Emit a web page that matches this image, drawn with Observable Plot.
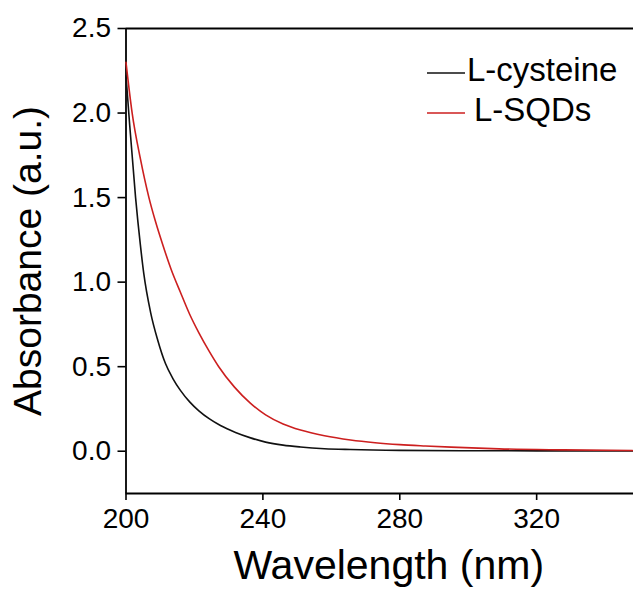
<!DOCTYPE html>
<html>
<head>
<meta charset="utf-8">
<script src="https://cdn.jsdelivr.net/npm/d3@7"></script>
<script src="https://cdn.jsdelivr.net/npm/@observablehq/plot@0.6"></script>
<style>
  html, body { margin: 0; padding: 0; background: #fff; }
  #wrap { position: relative; width: 633px; height: 592px; overflow: hidden; }
  #legend { position: absolute; left: 0; top: 0; }
  text { font-family: "Liberation Sans", Arial, sans-serif; }
</style>
</head>
<body>
<div id="wrap"></div>
<script>
// Series names and colours
const seriesNames = ["L-cysteine", "L-SQDs"];
const seriesColors = ["#111111", "#cc1f1f"];

// L-cysteine absorbance
const cysWavelength = [200, 201, 202.8, 204.2, 205.2, 207.2, 209.3, 211.5, 213.7, 215.9, 218.6, 221.3, 224.4, 227.6, 232, 236.4, 240.8, 245.9, 251, 258, 265.6, 280, 300, 320, 348];
const cysAbsorbance = [2.22, 1.95, 1.50, 1.22, 1.05, 0.82, 0.655, 0.52, 0.43, 0.36, 0.292, 0.239, 0.191, 0.152, 0.111, 0.079, 0.054, 0.036, 0.025, 0.015, 0.010, 0.005, 0.003, 0.002, 0.001];

// L-SQDs absorbance
const sqdWavelength = [200, 201.8, 204.2, 206.7, 208.6, 210.6, 213.2, 215.9, 218.6, 221.3, 224.2, 227.1, 231.7, 236.4, 240.8, 245.9, 251, 258, 265.6, 272.8, 280, 287.5, 295, 309, 328, 348];
const sqdAbsorbance = [2.30, 2.00, 1.73, 1.50, 1.36, 1.23, 1.075, 0.94, 0.81, 0.70, 0.595, 0.50, 0.379, 0.283, 0.215, 0.161, 0.125, 0.091, 0.066, 0.050, 0.039, 0.031, 0.024, 0.014, 0.008, 0.004];

// Axis ticks
const xTicks = [200, 240, 280, 320];
const yTicks = [0, 0.5, 1.0, 1.5, 2.0, 2.5];
const xDomain = [200, 348.3];
const yDomain = [-0.25, 2.5];
const xLabel = "Wavelength (nm)";
const yLabel = "Absorbance (a.u.)";

const rows = [
  ...cysWavelength.map((w, i) => ({series: seriesNames[0], w, a: cysAbsorbance[i]})),
  ...sqdWavelength.map((w, i) => ({series: seriesNames[1], w, a: sqdAbsorbance[i]}))
];

const chart = Plot.plot({
  width: 633,
  height: 592,
  marginLeft: 125.5,
  marginRight: 0,
  marginTop: 28,
  marginBottom: 99,
  style: {fontFamily: "'Liberation Sans', Arial, sans-serif", fontSize: "28px", color: "#000", background: "#fff"},
  x: {domain: xDomain},
  y: {domain: yDomain},
  color: {domain: seriesNames, range: seriesColors},
  marks: [
    Plot.axisX({ticks: xTicks, tickSize: 7, tickPadding: 8, tickFormat: d => String(d), label: null, fontSize: 28, strokeWidth: 1.6}),
    Plot.axisY({ticks: yTicks, tickSize: 8, tickPadding: 7, tickFormat: d3.format(".1f"), label: null, fontSize: 28, strokeWidth: 1.6}),
    Plot.ruleX([xDomain[0]], {stroke: "#000", strokeWidth: 1.8}),
    Plot.ruleY([yDomain[1], yDomain[0]], {stroke: "#000", strokeWidth: 1.8}),
    Plot.line(rows, {x: "w", y: "a", z: "series", stroke: "series", strokeWidth: 1.6, curve: "monotone-x"}),
    Plot.text([xLabel], {frameAnchor: "bottom", dx: 9, dy: 72, lineAnchor: "middle", fontSize: 41, fill: "#000"}),
    Plot.text([yLabel], {frameAnchor: "left", dx: -97, dy: 0, rotate: -90, textAnchor: "middle", lineAnchor: "middle", fontSize: 39, fill: "#000"})
  ]
});

const wrap = document.getElementById("wrap");
wrap.appendChild(chart);

// Legend overlay
const ns = "http://www.w3.org/2000/svg";
const leg = document.createElementNS(ns, "svg");
leg.setAttribute("id", "legend");
leg.setAttribute("width", 633);
leg.setAttribute("height", 150);
const legY = [73, 113];
const textX = [467, 474];
seriesNames.forEach((name, i) => {
  const ln = document.createElementNS(ns, "line");
  ln.setAttribute("x1", 427); ln.setAttribute("x2", 465);
  ln.setAttribute("y1", legY[i]); ln.setAttribute("y2", legY[i]);
  ln.setAttribute("stroke", seriesColors[i]);
  ln.setAttribute("stroke-width", 1.6);
  leg.appendChild(ln);
  const t = document.createElementNS(ns, "text");
  t.setAttribute("x", textX[i]);
  t.setAttribute("y", legY[i] + 8);
  t.setAttribute("font-size", 33);
  t.setAttribute("fill", "#000");
  t.textContent = name;
  leg.appendChild(t);
});
wrap.appendChild(leg);
</script>
</body>
</html>
